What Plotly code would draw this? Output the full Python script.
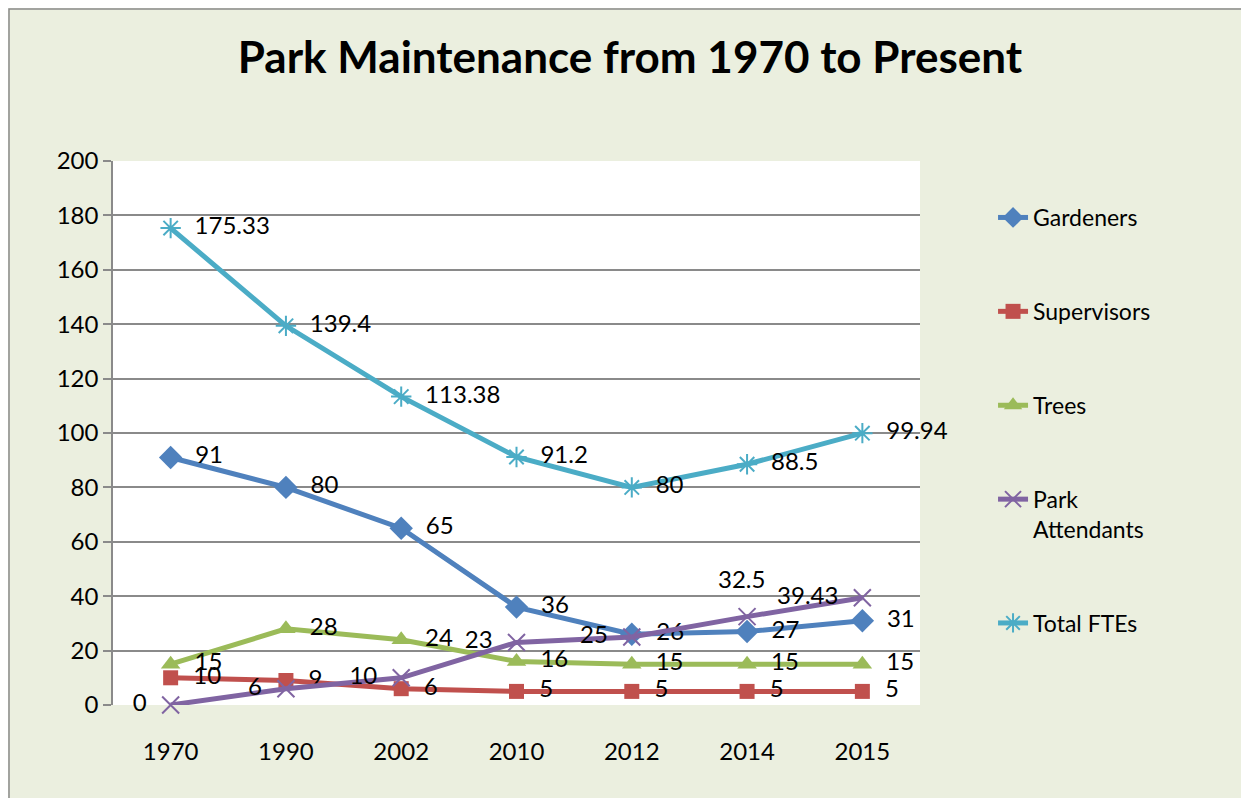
import plotly.graph_objects as go

years = ["1970", "1990", "2002", "2010", "2012", "2014", "2015"]
gardeners = [91, 80, 65, 36, 26, 27, 31]
supervisors = [10, 9, 6, 5, 5, 5, 5]
trees = [15, 28, 24, 16, 15, 15, 15]
park_attendants = [0, 6, 10, 23, 25, 32.5, 39.43]
total_ftes = [175.33, 139.4, 113.38, 91.2, 80, 88.5, 99.94]

y_ticks = [0, 20, 40, 60, 80, 100, 120, 140, 160, 180, 200]

FONT = "Lato"
GRID = "#8a8a8a"
PAD = "\u00a0\u00a0"

W, H = 1241, 790
L, R, T, B = 105, 329, 153, 93
PW, PH = W - L - R, H - T - B

def fmt(v):
    return f"{v:g}"

series = [
    ("Gardeners", gardeners, "#4F81BD", dict(symbol="diamond", size=18), "middle right"),
    ("Supervisors", supervisors, "#C0504D", dict(symbol="square", size=15), "middle right"),
    ("Trees", trees, "#9BBB59", dict(symbol="triangle-up", size=17), "middle right"),
    ("Park<br>Attendants", park_attendants, "#8064A2",
     dict(symbol="x-thin-open", size=17, line=dict(width=2, color="#8064A2")), "middle left"),
    ("Total FTEs", total_ftes, "#4BACC6",
     dict(symbol="asterisk-open", size=17, line=dict(width=2, color="#4BACC6")), "middle right"),
]

fig = go.Figure()
for i, (name, vals, color, marker, pos) in enumerate(series):
    is_park = name.startswith("Park")
    if pos == "middle right":
        texts = [PAD + fmt(v) for v in vals]
    else:
        texts = [fmt(v) + PAD for v in vals]
    if is_park:
        texts[5] = ""
    m = dict(marker)
    m.setdefault("color", color)
    fig.add_trace(go.Scatter(
        x=years, y=vals, name=name, mode="lines+markers+text",
        line=dict(color=color, width=5),
        marker=m,
        text=texts, textposition=pos,
        textfont=dict(family=FONT, size=24, color="black"),
        legendgroup=f"g{i}",
        cliponaxis=False,
    ))

# the 2014 Park Attendants label sits well above its point in the reference
idx = years.index("2014")
fig.add_annotation(x=idx, y=park_attendants[idx], xref="x", yref="y",
                   text=fmt(park_attendants[idx]),
                   showarrow=False, yshift=38, xshift=-6,
                   font=dict(family=FONT, size=24, color="black"))

fig.update_layout(
    width=W, height=H,
    margin=dict(l=L, r=R, t=T, b=B),
    paper_bgcolor="#EBEFDF",
    plot_bgcolor="white",
    title=dict(text="<b>Park Maintenance from 1970 to Present</b>",
               x=(630 - 8) / W, xref="container", xanchor="center",
               y=1 - 50 / H, yref="container", yanchor="middle",
               font=dict(family=FONT, size=44, color="black")),
    font=dict(family=FONT, color="black"),
    showlegend=True,
    legend=dict(x=1.0905, xanchor="left", y=(705 - 196) / 544, yanchor="top",
                font=dict(family=FONT, size=23, color="black"),
                tracegroupgap=61, valign="top", bgcolor="rgba(0,0,0,0)"),
    xaxis=dict(type="category", range=[-0.5, 6.5], showgrid=False,
               showline=False, ticks="", ticklabelstandoff=30,
               tickfont=dict(family=FONT, size=24, color="black"), zeroline=False),
    yaxis=dict(range=[0, 200], tickvals=y_ticks, showgrid=True, gridcolor=GRID,
               gridwidth=1.5, showline=True, linecolor=GRID, linewidth=1.5,
               ticks="outside", ticklen=8, tickcolor=GRID, tickwidth=1.5,
               tickfont=dict(family=FONT, size=24, color="black"), zeroline=False),
    shapes=[dict(type="rect", xref="paper", yref="paper",
                 x0=(1 - L) / PW, x1=(W + 20 - L) / PW,
                 y0=-(B + 20) / PH, y1=(PH + T - 1) / PH,
                 line=dict(color="#8a8a8a", width=1.5), fillcolor="rgba(0,0,0,0)",
                 layer="below")],
)

fig.write_html("out.html")
